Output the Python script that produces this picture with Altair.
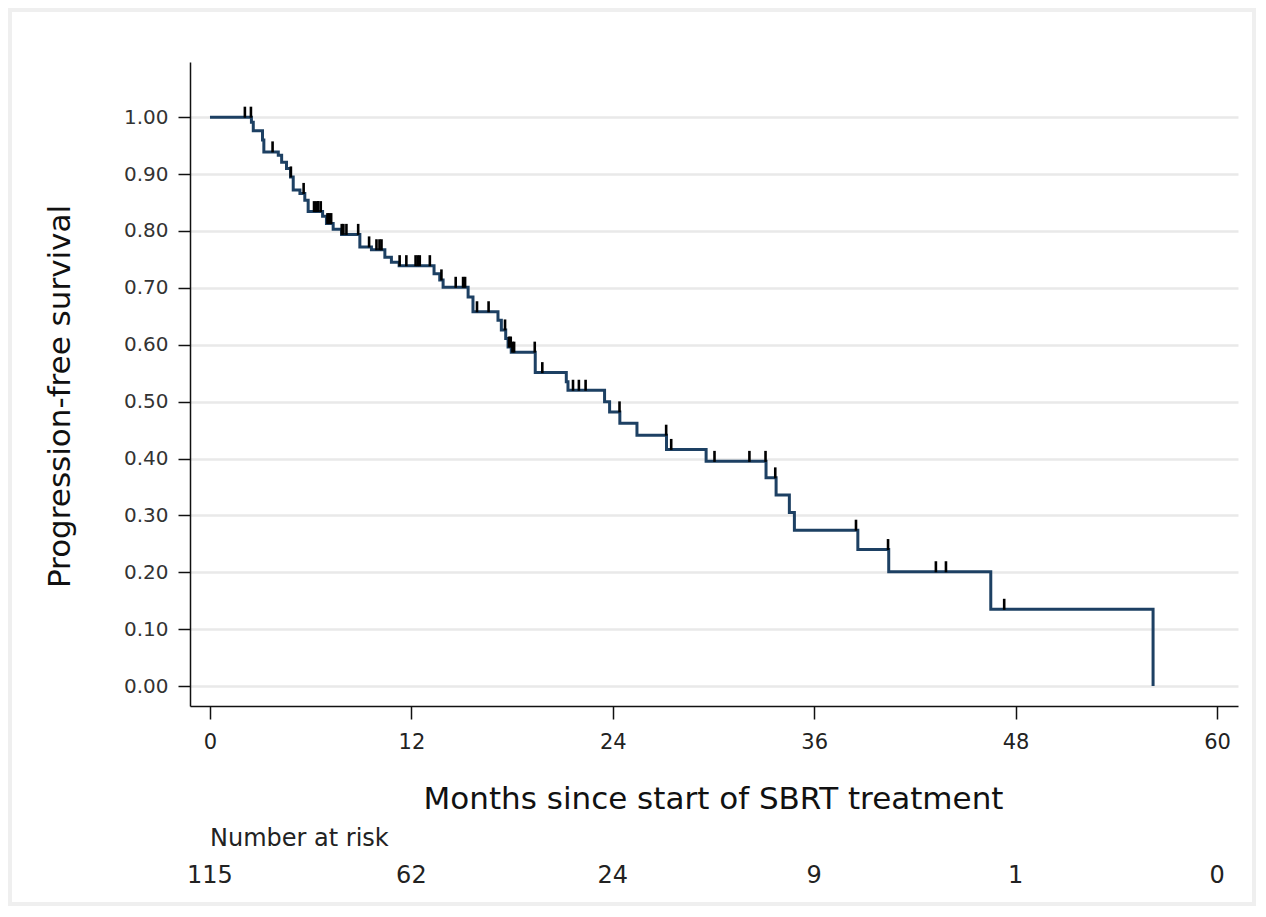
import altair as alt
import pandas as pd

# Kaplan-Meier step curve (time in months, survival level starting at that time)
step_time = [0, 2.47, 2.58, 3.13, 3.21, 4.07, 4.27, 4.56, 4.80, 4.96, 5.36, 5.65, 5.85,
             6.71, 6.94, 7.34, 7.84, 8.93, 9.62, 10.42, 10.81, 11.27, 13.35, 13.69, 13.89,
             15.38, 15.67, 17.16, 17.36, 17.62, 17.76, 17.95, 19.38, 21.23, 21.33, 23.51,
             23.81, 24.42, 25.44, 27.20, 29.56, 33.13, 33.73, 34.52, 34.82, 38.60, 40.44,
             46.52, 56.19]
step_surv = [1.000, 0.991, 0.976, 0.960, 0.939, 0.933, 0.921, 0.910, 0.895, 0.872, 0.866,
             0.854, 0.834, 0.826, 0.813, 0.803, 0.794, 0.772, 0.767, 0.754, 0.745, 0.739,
             0.725, 0.714, 0.701, 0.684, 0.658, 0.643, 0.626, 0.611, 0.596, 0.587, 0.551,
             0.535, 0.520, 0.500, 0.482, 0.462, 0.441, 0.416, 0.395, 0.366, 0.336, 0.305,
             0.274, 0.240, 0.201, 0.135, 0.000]

# Censoring marks
cens_time = [2.08, 2.44, 3.73, 4.82, 5.58, 6.20, 6.32, 6.45, 6.60, 7.00, 7.10, 7.22, 7.85,
             7.95, 8.13, 8.83, 9.48, 9.92, 10.10, 10.22, 11.30, 11.70, 12.25, 12.38, 12.50,
             13.10, 13.79, 14.64, 15.08, 15.20, 15.91, 16.60, 17.58, 17.82, 17.92, 18.02,
             18.12, 19.35, 19.80, 21.63, 21.98, 22.38, 24.40, 27.18, 27.48, 30.06, 32.14,
             33.10, 33.68, 38.49, 40.40, 43.25, 43.85, 47.32]
cens_surv = [1.000, 1.000, 0.939, 0.895, 0.866, 0.834, 0.834, 0.834, 0.834, 0.813, 0.813,
             0.813, 0.794, 0.794, 0.794, 0.794, 0.772, 0.767, 0.767, 0.767, 0.739, 0.739,
             0.739, 0.739, 0.739, 0.739, 0.714, 0.701, 0.701, 0.701, 0.658, 0.658, 0.626,
             0.596, 0.596, 0.587, 0.587, 0.587, 0.551, 0.520, 0.520, 0.520, 0.482, 0.441,
             0.416, 0.395, 0.395, 0.395, 0.366, 0.274, 0.240, 0.201, 0.201, 0.135]

risk_time = [0, 12, 24, 36, 48, 60]
risk_n = ["115", "62", "24", "9", "1", "0"]

x_ticks = [0, 12, 24, 36, 48, 60]
y_ticks = [0.0, 0.1, 0.2, 0.3, 0.4, 0.5, 0.6, 0.7, 0.8, 0.9, 1.0]

FONT = "DejaVu Sans"

curve_df = pd.DataFrame({"t": step_time, "s": step_surv})
cens_df = pd.DataFrame({"t": cens_time, "s": cens_surv})
risk_df = pd.DataFrame({"t": risk_time, "n": risk_n})

xscale = alt.Scale(domain=[-1.19, 61.25], nice=False, zero=False)
yscale = alt.Scale(domain=[-0.035, 1.097], nice=False, zero=False)

xaxis = alt.Axis(values=x_ticks, title="Months since start of SBRT treatment",
                 grid=False, labelFont=FONT, labelFontSize=21, labelColor="#222",
                 labelPadding=12, tickSize=13, tickColor="#111", tickWidth=1.5,
                 domainColor="#111", domainWidth=1.5, titleFont=FONT, titleFontSize=31,
                 titleFontWeight="normal", titleColor="#111", titleX=523, titleY=93,
                 titleBaseline="middle", titleAlign="center")
yaxis = alt.Axis(values=y_ticks, format=".2f", title="Progression-free survival",
                 grid=True, gridColor="#e9e9e9", gridWidth=2.5,
                 labelFont=FONT, labelFontSize=20, labelColor="#333", labelPadding=10,
                 tickSize=12, tickColor="#111", tickWidth=1.5, domainColor="#111",
                 domainWidth=1.5, titleFont=FONT, titleFontSize=31, titleFontWeight="normal",
                 titleColor="#111", titleX=-130, titleY=334, titleAngle=270,
                 titleBaseline="middle", titleAlign="center")

line = alt.Chart(curve_df).mark_line(interpolate="step-after", color="#1d4063",
                                     strokeWidth=3).encode(
    x=alt.X("t:Q", scale=xscale, axis=xaxis),
    y=alt.Y("s:Q", scale=yscale, axis=yaxis),
)

cens = alt.Chart(cens_df).mark_tick(orient="vertical", size=11, thickness=2.6,
                                    color="#000000", yOffset=-5, opacity=1).encode(
    x=alt.X("t:Q", scale=xscale),
    y=alt.Y("s:Q", scale=yscale),
)

risk = alt.Chart(risk_df).mark_text(font=FONT, fontSize=24, color="#222",
                                    baseline="middle", align="center").encode(
    x=alt.X("t:Q", scale=xscale),
    y=alt.value(814),
    text="n:N",
)

risk_label = alt.Chart(pd.DataFrame({"lbl": ["Number at risk"]})).mark_text(
    font=FONT, fontSize=24, color="#222", baseline="middle", align="left").encode(
    x=alt.value(20), y=alt.value(777), text="lbl:N")

frame = alt.Chart(pd.DataFrame({"a": [0]})).mark_rect(
    fillOpacity=0, stroke="#efefef", strokeWidth=4).encode(
    x=alt.value(-180), x2=alt.value(1064), y=alt.value(-52), y2=alt.value(842))

chart = alt.layer(frame, line, cens, risk, risk_label).properties(
    width=1048, height=644,
    autosize=alt.AutoSizeParams(type="none"),
    padding={"left": 182, "top": 54, "right": 20, "bottom": 200},
).configure_view(strokeWidth=0)

chart.save("out.html", embed_options={"renderer": "svg", "actions": False})
